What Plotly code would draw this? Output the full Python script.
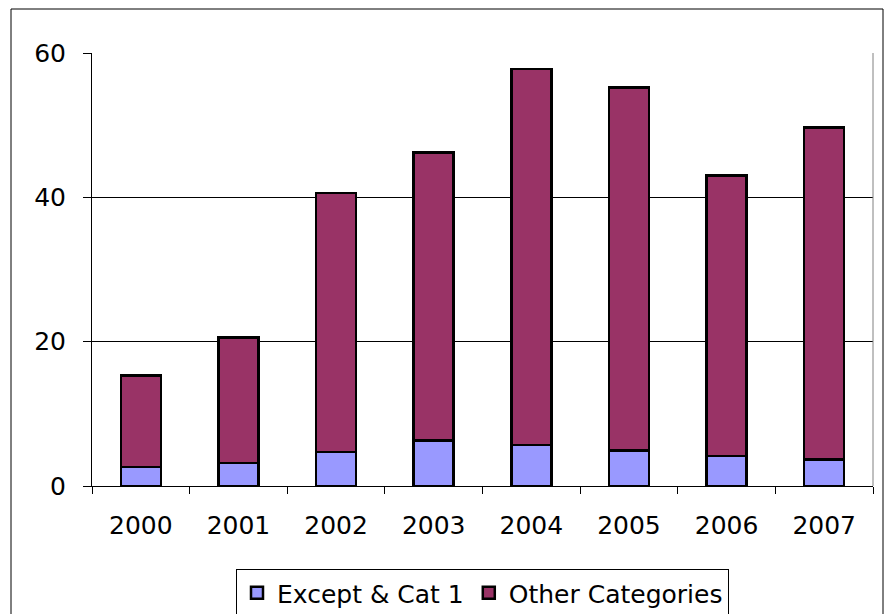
import plotly.graph_objects as go

years = ["2000", "2001", "2002", "2003", "2004", "2005", "2006", "2007"]
except_cat1 = [2.6, 3.2, 4.7, 6.3, 5.7, 4.9, 4.15, 3.65]
other_categories = [12.7, 17.4, 35.9, 39.9, 52.1, 50.3, 38.85, 46.0]
y_ticks = [0, 20, 40, 60]

FONT = "DejaVu Sans"
FS = 25

fig = go.Figure()
fig.add_trace(go.Bar(
    x=years, y=except_cat1, name="Except & Cat 1",
    marker=dict(color="#9999FF", line=dict(color="black", width=2.5)),
))
fig.add_trace(go.Bar(
    x=years, y=other_categories, name="Other Categories",
    marker=dict(color="#993366", line=dict(color="black", width=2.5)),
))

W, H = 886, 614
L, R, T, B = 92, 13, 53, 128
pw, ph = W - L - R, H - T - B

fig.update_layout(
    barmode="stack",
    bargap=0.59,
    width=W, height=H,
    margin=dict(l=L, r=R, t=T, b=B, autoexpand=False),
    paper_bgcolor="white",
    plot_bgcolor="white",
    font=dict(family=FONT, size=FS, color="black"),
    showlegend=True,
    legend=dict(
        orientation="h",
        xref="paper", x=0.5, xanchor="center",
        yref="container", y=1 - 569 / H, yanchor="top",
        bordercolor="black", borderwidth=1,
        font=dict(family=FONT, size=FS),
        traceorder="normal",
        itemwidth=30,
        tracegroupgap=0,
    ),
    xaxis=dict(
        type="category",
        automargin=False,
        showline=True, linecolor="black", linewidth=1,
        ticks="outside", ticklen=7, tickcolor="black",
        tickson="boundaries",
        showgrid=False,
        tickfont=dict(family=FONT, size=FS),
        ticklabelstandoff=17,
    ),
    yaxis=dict(
        range=[0, 60],
        automargin=False,
        tickvals=y_ticks,
        showline=True, linecolor="black", linewidth=1,
        ticks="outside", ticklen=8, tickcolor="black",
        showgrid=True, gridcolor="black", gridwidth=1,
        zeroline=False,
        tickfont=dict(family=FONT, size=FS),
        ticklabelstandoff=12,
    ),
    shapes=[
        # plot-area right edge
        dict(type="line", xref="paper", yref="paper",
             x0=1, x1=1, y0=0, y1=1,
             line=dict(color="#808080", width=1)),
        # outer chart border
        dict(type="rect", xref="paper", yref="paper",
             x0=(11 - L) / pw, x1=(883 - L) / pw,
             y0=(486 - 640) / ph, y1=(486 - 9) / ph,
             line=dict(color="black", width=1)),
    ],
)

fig.write_html("out.html")
